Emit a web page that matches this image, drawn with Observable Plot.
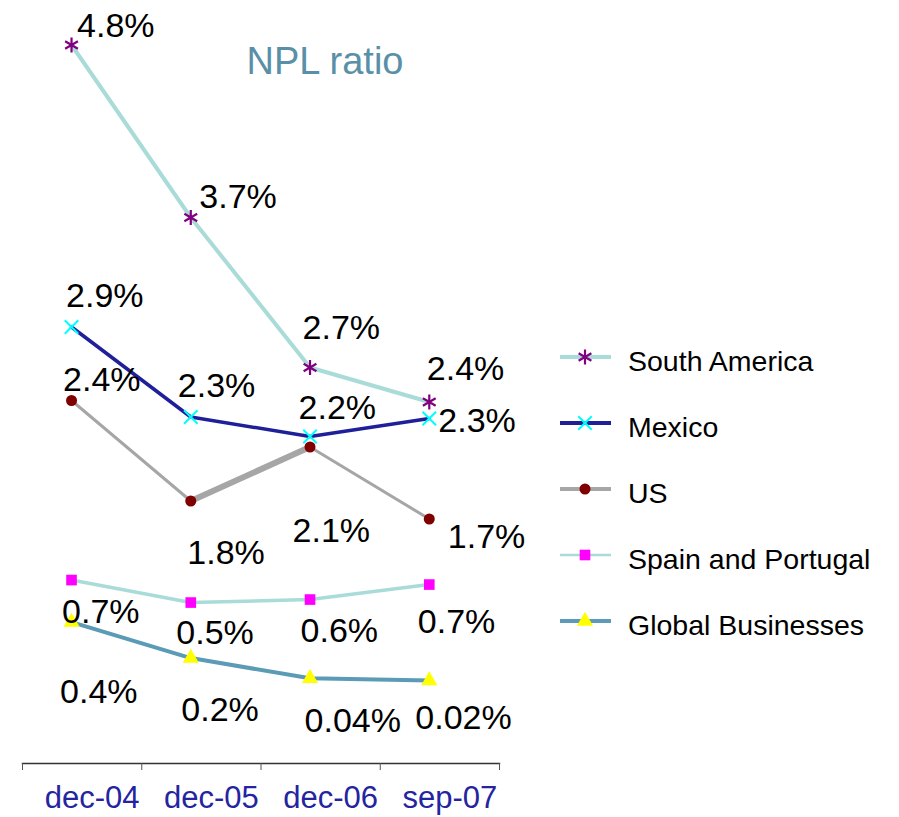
<!DOCTYPE html>
<html><head><meta charset="utf-8">
<script src="https://cdn.jsdelivr.net/npm/d3@7"></script>
<script src="https://cdn.jsdelivr.net/npm/@observablehq/plot@0.6"></script>
<style>
body{margin:0;background:#fff;font-family:"Liberation Sans",Arial,Helvetica,sans-serif;}
#wrap{position:relative;width:899px;height:817px;overflow:hidden;}
#chart{position:absolute;left:0;top:0;}
#title{position:absolute;left:0;width:650px;text-align:center;top:40px;font-size:38px;color:#5a8fa8;line-height:normal;}
</style></head><body>
<div id="wrap"><div id="chart"></div><div id="title">NPL ratio</div><div id="legend"></div></div>
<script>
// ---- data ----
const periods = ["dec-04", "dec-05", "dec-06", "sep-07"];
const seriesNames = ["South America", "Mexico", "US", "Spain and Portugal", "Global Businesses"];
// primary axis series (NPL ratio, %)
const southAmerica = [4.77, 3.62, 2.62, 2.39];
const mexico = [2.89, 2.29, 2.16, 2.28];
const us = [2.40, 1.73, 2.09, 1.61];
// secondary axis series (NPL ratio, %)
const spainPortugal = [0.69, 0.54, 0.56, 0.66];
const globalBusinesses = [0.41, 0.17, 0.035, 0.02];
// data labels as printed
const southAmericaLabels = ["4.8%", "3.7%", "2.7%", "2.4%"];
const mexicoLabels = ["2.9%", "2.3%", "2.2%", "2.3%"];
const usLabels = ["2.4%", "1.8%", "2.1%", "1.7%"];
const spainPortugalLabels = ["0.7%", "0.5%", "0.6%", "0.7%"];
const globalBusinessesLabels = ["0.4%", "0.2%", "0.04%", "0.02%"];

// ---- layout / style (not data) ----
const secondaryToPrimary = d3.scaleLinear().domain([0, 1]).range([0.513, 1.513]);
const styles = [
  {line: "#a9dcd8", lw: 4, symbol: "asterisk", sym: d3.symbolAsterisk, r: 7, stroke: "#800080", fill: "none", sw: 2.2},
  {line: "#1f1f99", lw: 3.5, symbol: "times", sym: d3.symbolTimes, r: 6.2, stroke: "#00ffff", fill: "none", sw: 2},
  {line: "#a6a6a6", lw: 3, symbol: "circle", sym: d3.symbolCircle, r: 5.5, stroke: "none", fill: "#800000", sw: 0},
  {line: "#a9dcd8", lw: 3.5, symbol: "square", sym: d3.symbolSquare, r: 6, stroke: "none", fill: "#ff00ff", sw: 0},
  {line: "#5b9bb5", lw: 4, symbol: "triangle", sym: d3.symbolTriangle, r: 6, stroke: "none", fill: "#ffff00", sw: 0}
];
const labelNudge = [
  [[5.5,-19],[8.5,-20],[-7.5,-39],[-2.5,-33]],
  [[-5.5,-30.5],[-13,-31],[-11.5,-28.5],[9,2.5]],
  [[-8.5,-20],[-3.5,52.5],[-17.5,84.5],[18.5,18.5]],
  [[-9.5,32],[-14.5,30.5],[-9.5,31.5],[-11.5,37.5]],
  [[-11.5,70.5],[-9.5,52],[-5.5,42.5],[-14,38]]
];

const series = [
  {name: seriesNames[0], values: southAmerica, labels: southAmericaLabels, secondary: false},
  {name: seriesNames[1], values: mexico, labels: mexicoLabels, secondary: false},
  {name: seriesNames[2], values: us, labels: usLabels, secondary: false},
  {name: seriesNames[3], values: spainPortugal, labels: spainPortugalLabels, secondary: true},
  {name: seriesNames[4], values: globalBusinesses, labels: globalBusinessesLabels, secondary: true}
];

const rowsBySeries = series.map((s, k) => s.values.map((v, i) => ({
  series: s.name, i, period: periods[i], value: v,
  py: s.secondary ? secondaryToPrimary(v) : v,
  label: s.labels[i], k
})));

const X = d => d.i + 0.5;
const PDX = -10.6;
const marks = [];
marks.push(Plot.frame({anchor: "bottom", stroke: "#333", strokeWidth: 1.5}));
marks.push(Plot.axisX({ticks: [0, 1, 2, 3, 4], tickFormat: () => "", tickSize: 7, stroke: "#555", label: null}));
marks.push(Plot.axisX({ticks: [0.5, 1.5, 2.5, 3.5], tickSize: 0, tickPadding: 22, tickFormat: d => periods[Math.floor(d)], fontSize: 31, fill: "#2424a0", dx: 10, label: null}));

rowsBySeries.forEach((rows, k) => {
  const st = styles[k];
  marks.push(Plot.line(rows, {x: X, y: "py", stroke: st.line, strokeWidth: st.lw, dx: PDX}));
  if (k === 2) marks.push(Plot.line(rows.slice(1, 3), {x: X, y: "py", stroke: st.line, strokeWidth: 6, dx: PDX}));
});
rowsBySeries.forEach((rows, k) => {
  const st = styles[k];
  marks.push(Plot.dot(rows, {x: X, y: "py", symbol: st.symbol, r: st.r, stroke: st.stroke, fill: st.fill, strokeWidth: st.sw, dx: PDX}));
});
rowsBySeries.forEach((rows, k) => {
  rows.forEach((row, i) => {
    const [ndx, ndy] = labelNudge[k][i];
    marks.push(Plot.text([row], {x: X, y: "py", text: "label", textAnchor: "start", fontSize: 34, fill: "#000", dx: PDX + ndx, dy: ndy}));
  });
});

const chart = Plot.plot({
  width: 899, height: 817,
  marginLeft: 22, marginRight: 400, marginTop: 10, marginBottom: 54,
  style: {fontFamily: '"Liberation Sans", Arial, Helvetica, sans-serif', background: "white", overflow: "visible"},
  x: {type: "linear", domain: [0, 4], axis: null},
  y: {type: "linear", domain: [0, 5], range: [760, 10], axis: null},
  marks
});
document.getElementById("chart").appendChild(chart);

// ---- legend ----
const legend = d3.select("#legend");
series.forEach((s, k) => {
  const st = styles[k];
  const row = legend.append("div")
    .style("position", "absolute").style("left", "560px").style("top", (357 + 66 * k - 20) + "px")
    .style("height", "40px").style("display", "flex").style("align-items", "center");
  const svg = row.append("svg").attr("width", 52).attr("height", 40);
  svg.append("line").attr("x1", 0).attr("x2", 51).attr("y1", 20).attr("y2", 20)
    .attr("stroke", st.line).attr("stroke-width", k === 3 ? 2.5 : 4);
  svg.append("path").attr("transform", "translate(25,20)")
    .attr("d", d3.symbol(st.sym, Math.PI * st.r * st.r)())
    .attr("fill", st.fill).attr("stroke", st.stroke).attr("stroke-width", st.sw);
  row.append("span").style("margin-left", "16px").style("font-size", "28.5px")
    .style("position", "relative").style("top", "4px").style("color", "#000").text(s.name);
});
</script>
</body></html>
